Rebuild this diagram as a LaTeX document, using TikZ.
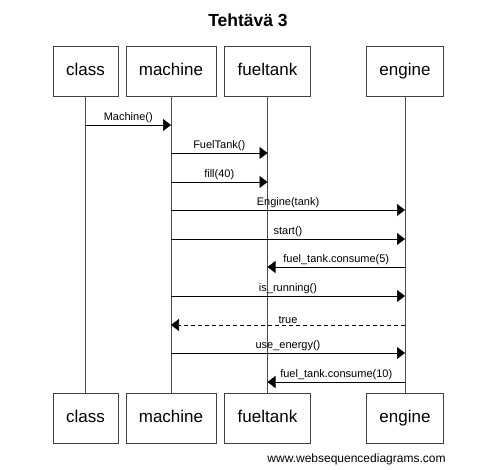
\documentclass[tikz,border=0pt]{standalone}
\usepackage{fontspec}
\setmainfont{Liberation Sans}
\usetikzlibrary{arrows.meta}
\begin{document}
\begin{tikzpicture}[x=1pt,y=-1pt,
  actor/.style={draw=black!75,line width=0.8pt,minimum height=50pt,inner sep=0pt,text height=12.5pt,text depth=3.5pt,font=\fontsize{17}{20}\selectfont},
  life/.style={draw=black!70,line width=0.8pt},
  msg/.style={draw=black,line width=0.7pt,-{Triangle[length=8pt,width=12pt]}},
  ret/.style={msg,dashed,dash pattern=on 4pt off 3pt},
  lbl/.style={midway,above,inner sep=1.5pt,font=\fontsize{11}{13}\selectfont}]
\useasboundingbox (0,0) rectangle (496,470);
\node[font=\bfseries\fontsize{17.5}{20}\selectfont] (title) at (248,20) {Tehtävä 3};
% top boxes
\node[actor,minimum width=65pt] (cT) at (85.5,71) {class};
\node[actor,minimum width=90pt] (mT) at (171,71) {machine};
\node[actor,minimum width=86pt] (fT) at (267.5,71) {fueltank};
\node[actor,minimum width=77pt] (eT) at (405,71) {engine};
% bottom boxes
\node[actor,minimum width=65pt] (cB) at (85.5,418.5) {class};
\node[actor,minimum width=90pt] (mB) at (171,418.5) {machine};
\node[actor,minimum width=86pt] (fB) at (267.5,418.5) {fueltank};
\node[actor,minimum width=77pt] (eB) at (405,418.5) {engine};
% lifelines
\draw[life] (cT.south) -- (cB.north);
\draw[life] (mT.south) -- (mB.north);
\draw[life] (fT.south) -- (fB.north);
\draw[life] (eT.south) -- (eB.north);
% messages
\draw[msg] (cT |- 0,125) -- (mT |- 0,125) node[lbl] {Machine()};
\draw[msg] (mT |- 0,153) -- (fT |- 0,153) node[lbl] {FuelTank()};
\draw[msg] (mT |- 0,182) -- (fT |- 0,182) node[lbl] {fill(40)};
\draw[msg] (mT |- 0,210) -- (eT |- 0,210) node[lbl] {Engine(tank)};
\draw[msg] (mT |- 0,239) -- (eT |- 0,239) node[lbl] {start()};
\draw[msg] (eT |- 0,267) -- (fT |- 0,267) node[lbl] {fuel\_tank.consume(5)};
\draw[msg] (mT |- 0,296) -- (eT |- 0,296) node[lbl] {is\_running()};
\draw[ret] (eT |- 0,325) -- (mT |- 0,325) node[lbl] {true};
\draw[msg] (mT |- 0,353) -- (eT |- 0,353) node[lbl] {use\_energy()};
\draw[msg] (eT |- 0,382) -- (fT |- 0,382) node[lbl] {fuel\_tank.consume(10)};
% footer
\node[font=\fontsize{12}{14}\selectfont] (footer) at (356.5,459) {www.websequencediagrams.com};
\end{tikzpicture}
\end{document}
